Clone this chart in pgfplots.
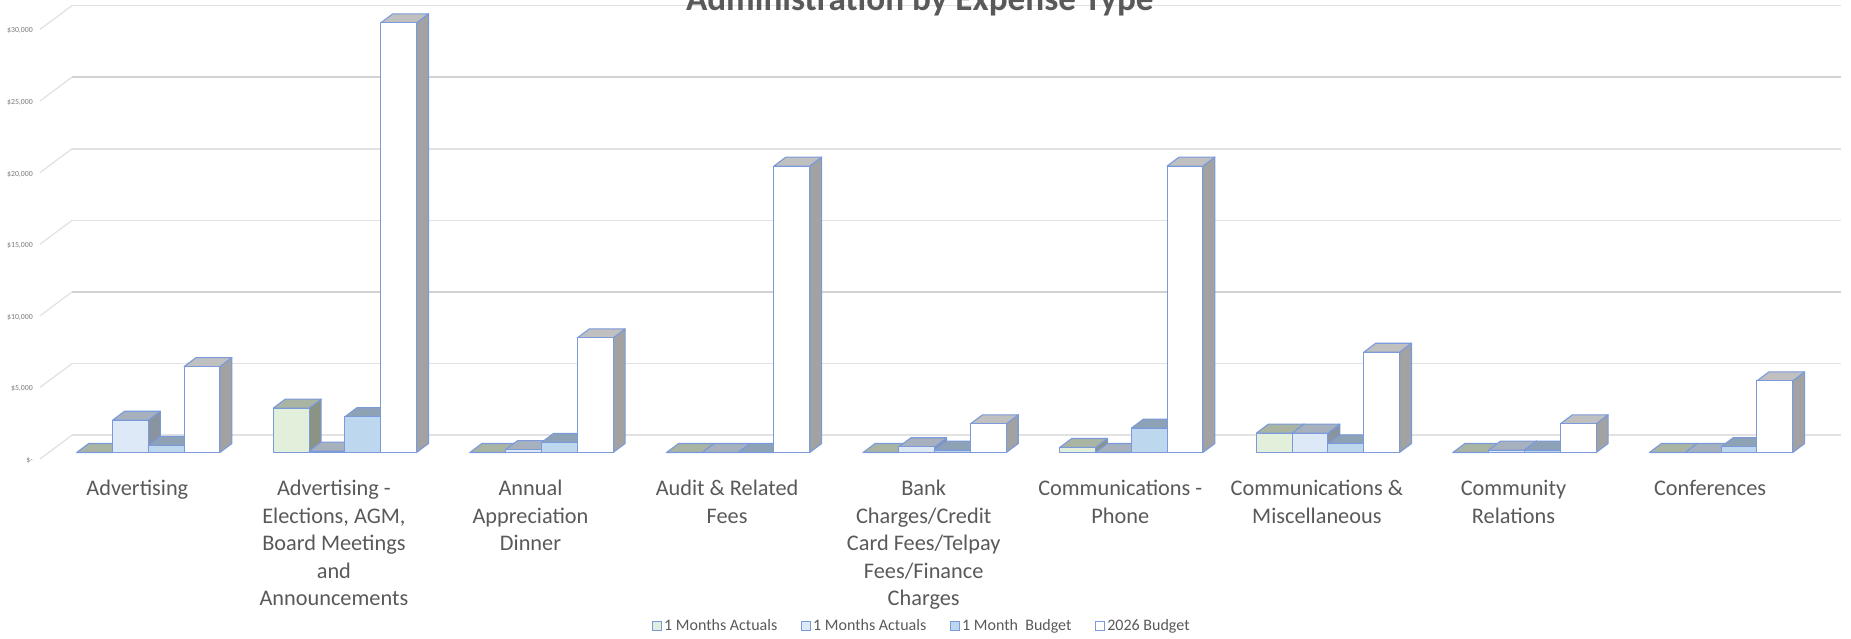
\documentclass[border=0pt]{standalone}
\usepackage{pgfplots}
\usepackage{pgfplotstable}
\usepackage{fontspec}
\usepackage{xfp}
\pgfplotsset{compat=1.18}
\setmainfont{Carlito}

\definecolor{labelgrey}{HTML}{595959}
\definecolor{ticktext}{HTML}{7A7A7A}
\definecolor{gridlight}{HTML}{E2E2E2}
\definecolor{griddark}{HTML}{D2D2D2}
\definecolor{edge}{HTML}{7A9ADB}

% series 0: first actuals
\definecolor{frontA}{HTML}{E2EFDA}\definecolor{topA}{HTML}{A9B4A3}\definecolor{sideA}{HTML}{8B9384}
% series 1: second actuals
\definecolor{frontB}{HTML}{DEE9F8}\definecolor{topB}{HTML}{A7B1BE}\definecolor{sideB}{HTML}{8A93A0}
% series 2: one month budget
\definecolor{frontC}{HTML}{BDD7EE}\definecolor{topC}{HTML}{8EA2B6}\definecolor{sideC}{HTML}{7F92A6}
% series 3: annual budget
\definecolor{frontD}{HTML}{FFFFFF}\definecolor{topD}{HTML}{C0C0C0}\definecolor{sideD}{HTML}{A2A2A2}

% amounts per expense type, one column per series
\pgfplotstableread{
cat  A     B     C     D
0    0     2250  500   6000
1    3100  100   2500  30000
2    0     200   700   8000
3    0     0     0     20000
4    0     400   170   2000
5    350   0     1700  20000
6    1350  1350  600   7000
7    0     170   170   2000
8    0     0     400   5000
}\amounts

% geometry of the oblique projection, in data units
\def\barW{0.1821}      % bar width
\def\barStart{-0.3133} % left edge of the first bar relative to the category centre
\def\depX{0.0610}      % bar depth, horizontal
\def\depY{628}         % bar depth, vertical
\def\baseY{454}        % height of the bar front plane above the wall's front edge
\def\wallX{0.1628}     % side wall depth, horizontal
\def\wallY{1664}       % side wall depth, vertical
\def\wallL{-0.5}       % front edge of the side wall

% #1 category, #2 series number, #3 amount, #4 series letter
\newcommand\solidbar[4]{%
  \edef\xa{\fpeval{#1+\barStart+#2*\barW}}%
  \edef\xb{\fpeval{\xa+\barW}}%
  \edef\xc{\fpeval{\xb+\depX}}%
  \edef\xd{\fpeval{\xa+\depX}}%
  \edef\ya{\baseY}%
  \edef\yb{\fpeval{\baseY+#3}}%
  \edef\yc{\fpeval{\yb+\depY}}%
  \edef\yd{\fpeval{\ya+\depY}}%
  \edef\drawit{%
    \noexpand\addplot[forget plot,fill=side#4,draw=edge,line width=1.1pt,line join=round]
      coordinates {(\xb,\ya)(\xc,\yd)(\xc,\yc)(\xb,\yb)} --cycle;
    \noexpand\addplot[forget plot,fill=top#4,draw=edge,line width=1.1pt,line join=round]
      coordinates {(\xa,\yb)(\xb,\yb)(\xc,\yc)(\xd,\yc)} --cycle;
    \noexpand\addplot[forget plot,fill=front#4,draw=edge,line width=1.1pt,line join=round]
      coordinates {(\xa,\ya)(\xb,\ya)(\xb,\yb)(\xa,\yb)} --cycle;
  }%
  \drawit
}

% #1 amount, #2 colour of the back wall part
\newcommand\wallline[2]{%
  \edef\drawit{%
    \noexpand\addplot[forget plot,draw=gridlight,line width=1.3pt]
      coordinates {(\wallL,#1)(\fpeval{\wallL+\wallX},\fpeval{#1+\wallY})};
    \noexpand\addplot[forget plot,draw=#2,line width=1.6pt]
      coordinates {(\fpeval{\wallL+\wallX},\fpeval{#1+\wallY})(8.6628,\fpeval{#1+\wallY})};
  }%
  \drawit
}

\begin{document}
\begin{tikzpicture}
\path[use as bounding box,clip] (0pt,0pt) rectangle (1851pt,638pt);
\begin{axis}[
  at={(0pt,0pt)}, anchor=south west,
  scale only axis,
  width=1851pt,
  height=638pt,
  xmin=-0.7035, xmax=8.7116,
  ymin=-12500, ymax=32053,
  axis line style={draw=none},
  major tick length=0pt,
  clip=false,
  scaled y ticks=false,
  xtick={0,...,8},
  xticklabels={
    {Advertising},
    {Advertising -\\Elections, AGM,\\Board Meetings\\and\\Announcements},
    {Annual\\Appreciation\\Dinner},
    {Audit \& Related\\Fees},
    {Bank\\Charges/Credit\\Card Fees/Telpay\\Fees/Finance\\Charges},
    {Communications -\\Phone},
    {Communications \&\\Miscellaneous},
    {Community\\Relations},
    {Conferences}},
  x tick label style={
    font=\fontsize{22.3}{27.5}\selectfont,
    text=labelgrey, align=center, anchor=north, inner sep=0pt, yshift=158pt, xshift=-1pt},
  ytick={0,5000,...,30000},
  yticklabels={{\$-},{\$5,000},{\$10,000},{\$15,000},{\$20,000},{\$25,000},{\$30,000}},
  y tick label style={
    font=\fontsize{7.8}{9}\selectfont,
    text=ticktext, anchor=east, inner sep=0pt, xshift=33pt, yshift=-1.5pt},
  /pgf/number format/assume math mode=true,
  legend columns=4,
  legend style={
    draw=none, fill=none, at={(axis cs:3.986,-11660)}, anchor=center,
    font=\fontsize{16}{18}\selectfont, text=labelgrey,
    /tikz/every even column/.append style={column sep=22pt}},
  legend image code/.code={
    \draw[#1,line width=0.9pt] (-5pt,-4.5pt) rectangle (4pt,4.5pt);},
]
  % walls and floor
  \wallline{0}{gridlight}
  \wallline{5000}{gridlight}
  \wallline{10000}{griddark}
  \wallline{15000}{gridlight}
  \wallline{20000}{gridlight}
  \wallline{25000}{griddark}
  \wallline{30000}{gridlight}

  % bars, painted from left to right
  \pgfplotsforeachungrouped \c in {0,...,8}{%
    \pgfplotstablegetelem{\c}{A}\of\amounts \edef\va{\pgfplotsretval}%
    \pgfplotstablegetelem{\c}{B}\of\amounts \edef\vb{\pgfplotsretval}%
    \pgfplotstablegetelem{\c}{C}\of\amounts \edef\vc{\pgfplotsretval}%
    \pgfplotstablegetelem{\c}{D}\of\amounts \edef\vd{\pgfplotsretval}%
    \solidbar{\c}{0}{\va}{A}%
    \solidbar{\c}{1}{\vb}{B}%
    \solidbar{\c}{2}{\vc}{C}%
    \solidbar{\c}{3}{\vd}{D}%
  }

  \addlegendimage{fill=frontA,draw=edge}\addlegendentry{1 Months Actuals}
  \addlegendimage{fill=frontB,draw=edge}\addlegendentry{1 Months Actuals}
  \addlegendimage{fill=frontC,draw=edge}\addlegendentry{1 Month\ \ Budget}
  \addlegendimage{fill=frontD,draw=edge}\addlegendentry{2026 Budget}

  % chart title, running off the top edge of the sheet
  \node[anchor=base,font=\fontsize{35.2}{37}\selectfont\bfseries,text=labelgrey,inner sep=0pt]
    at (axis cs:3.975,31300) {Administration by Expense Type};
\end{axis}
\end{tikzpicture}
\end{document}
